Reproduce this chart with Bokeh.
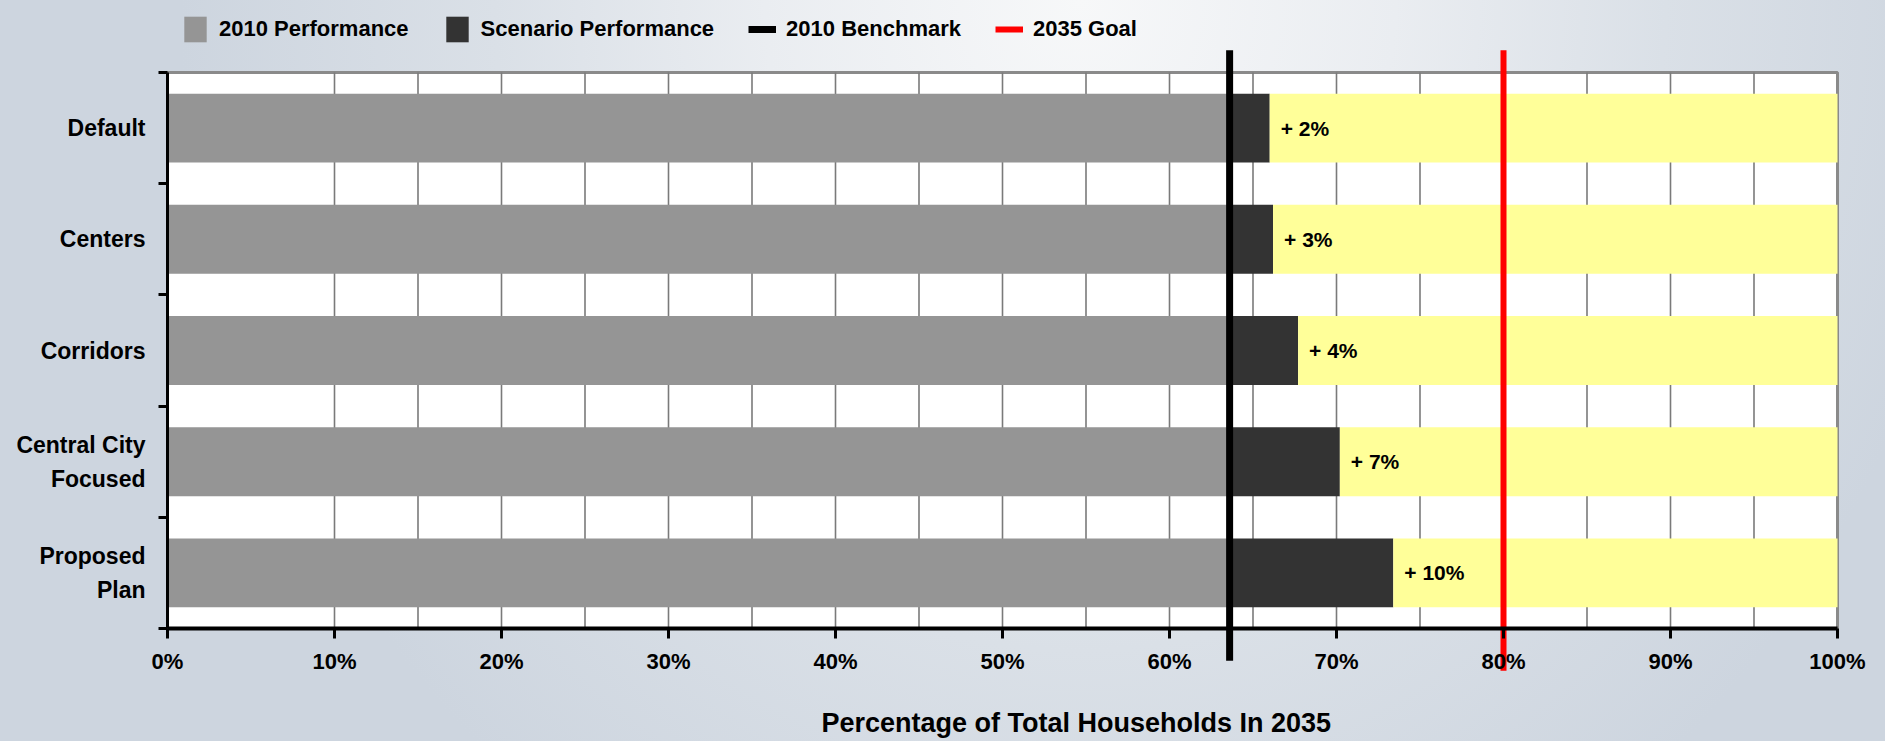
from bokeh.plotting import figure
from bokeh.models import (Range1d, FixedTicker, Legend, LegendItem, Title,
                          ColumnDataSource, PrintfTickFormatter)
from bokeh.core.properties import value
from bokeh.embed import file_html
from bokeh.resources import INLINE

# ---------------- data ----------------
categories = ["Default", "Centers", "Corridors", "Central City\nFocused", "Proposed\nPlan"]
perf_2010 = [63.6, 63.6, 63.6, 63.6, 63.6]          # 2010 Performance (%)
scenario_perf = [66.0, 66.2, 67.7, 70.2, 73.4]      # Scenario Performance (%)
gain_labels = ["+ 2%", "+ 3%", "+ 4%", "+ 7%", "+ 10%"]
total_share = [100, 100, 100, 100, 100]
benchmark_2010 = [63.6]
goal_2035 = [80.0]
x_ticks = [0, 10, 20, 30, 40, 50, 60, 70, 80, 90, 100]
grid_x = [10, 15, 20, 25, 30, 35, 40, 45, 50, 55, 60, 65, 70, 75, 85, 90, 95]

# ---------------- layout constants ----------------
FONT = "Liberation Sans"
N = len(categories)
X_MIN, X_MAX = 0, 100
PLOT_LEFT_PX, PLOT_W_PX = 167, 1670          # where 0 % .. 100 % sit on the page
PX_PER_PCT = PLOT_W_PX / (X_MAX - X_MIN)
FRAME_W, FRAME_H = 1885, 705
X_START = X_MIN - PLOT_LEFT_PX / PX_PER_PCT
X_END = X_START + FRAME_W / PX_PER_PCT
PX_PER_UNIT = 556 / N
Y_END = N + 72 / PX_PER_UNIT
Y_START = Y_END - FRAME_H / PX_PER_UNIT
ypos = [N - 0.5 - i for i in range(N)]

src = ColumnDataSource(dict(y=ypos, cat=categories, perf=perf_2010, scen=scenario_perf,
                            full=total_share, lab=gain_labels))

p = figure(frame_width=FRAME_W, frame_height=FRAME_H,
           x_range=Range1d(X_START, X_END), y_range=Range1d(Y_START, Y_END),
           y_axis_location="right",
           output_backend="svg", toolbar_location=None, title=None,
           min_border_left=0, min_border_right=0, min_border_top=0,
           min_border_bottom=741 - FRAME_H)
p.background_fill_color = None
p.border_fill_color = None
p.outline_line_color = None
p.xgrid.visible = False
p.ygrid.visible = False
p.styles = {"background": "radial-gradient(ellipse 900px 1000px at 1080px 0px, "
                          "#f7f8f9 0%, #eaedf1 35%, #dae0e7 65%, #cdd5df 100%)"}

# plot area
p.quad(left=[X_MIN], right=[X_MAX], bottom=[0], top=[N], fill_color="white",
       line_color="#8a8a8a", line_width=3)
p.segment(x0=grid_x, y0=[0] * len(grid_x), x1=grid_x, y1=[N] * len(grid_x),
          line_color="#7a7a7a", line_width=1.6)

BAR_H = 0.62
r_perf = p.hbar(y="y", left=0, right="perf", height=BAR_H, source=src,
                fill_color="#959595", line_color=None)
r_scen = p.hbar(y="y", left="perf", right="scen", height=BAR_H, source=src,
                fill_color="#333333", line_color=None)
p.hbar(y="y", left="scen", right="full", height=BAR_H, source=src,
       fill_color="#FFFF99", line_color=None)

r_bench = p.segment(x0=benchmark_2010, x1=benchmark_2010, y0=[N + 0.2], y1=[-0.29],
                    line_color="black", line_width=7)
r_goal = p.segment(x0=goal_2035, x1=goal_2035, y0=[N + 0.2], y1=[-0.38],
                   line_color="#ff0000", line_width=6)

p.text(x="scen", y="y", text="lab", source=src, x_offset=11,
       text_baseline="middle", text_align="left", text_font=value(FONT),
       text_font_size="21px", text_font_style="bold", text_color="black")

# category labels (left of the value axis)
p.text(x=X_MIN, y="y", text="cat", source=src, x_offset=-22,
       text_baseline="middle", text_align="right", text_font=value(FONT),
       text_font_size="23px", text_font_style="bold", text_color="black",
       text_line_height=1.3)

# legend
legend = Legend(items=[LegendItem(label="2010 Performance", renderers=[r_perf]),
                       LegendItem(label="Scenario Performance", renderers=[r_scen]),
                       LegendItem(label="2010 Benchmark", renderers=[r_bench]),
                       LegendItem(label="2035 Goal", renderers=[r_goal])],
                orientation="horizontal", location=(177, FRAME_H - 49),
                glyph_width=28, glyph_height=32, label_height=32,
                label_standoff=10, spacing=34, padding=4, margin=0,
                label_text_font=FONT, label_text_font_size="22px",
                label_text_font_style="bold", label_text_color="black",
                background_fill_alpha=0, border_line_alpha=0)
p.add_layout(legend)

# category axis line with boundary ticks (drawn at 0 %)
ya = p.yaxis[0]
ya.ticker = FixedTicker(ticks=[], minor_ticks=list(range(N + 1)))
ya.fixed_location = X_MIN
ya.bounds = (0, N)
ya.axis_line_color = "black"
ya.axis_line_width = 3
ya.major_tick_out = 0
ya.major_tick_in = 0
ya.minor_tick_out = 0
ya.minor_tick_in = 9
ya.minor_tick_line_color = "black"
ya.minor_tick_line_width = 3
ya.major_label_text_font_size = "0px"

# x axis
xa = p.xaxis[0]
xa.ticker = FixedTicker(ticks=x_ticks, minor_ticks=[])
xa.formatter = PrintfTickFormatter(format="%d%%")
xa.fixed_location = 0
xa.bounds = (X_MIN, X_MAX)
xa.axis_line_color = "black"
xa.axis_line_width = 4
xa.major_tick_out = 10
xa.major_tick_in = 0
xa.major_tick_line_width = 3
xa.major_tick_line_color = "black"
xa.major_label_standoff = 10
xa.major_label_text_font = FONT
xa.major_label_text_font_size = "22px"
xa.major_label_text_font_style = "bold"
xa.major_label_text_color = "black"

p.add_layout(Title(text="Percentage of Total Households In 2035", align="left",
                   offset=821, standoff=0, text_font=FONT, text_font_size="27px",
                   text_font_style="bold", text_color="black"), "below")

open("out.html", "w").write(file_html(p, INLINE))
